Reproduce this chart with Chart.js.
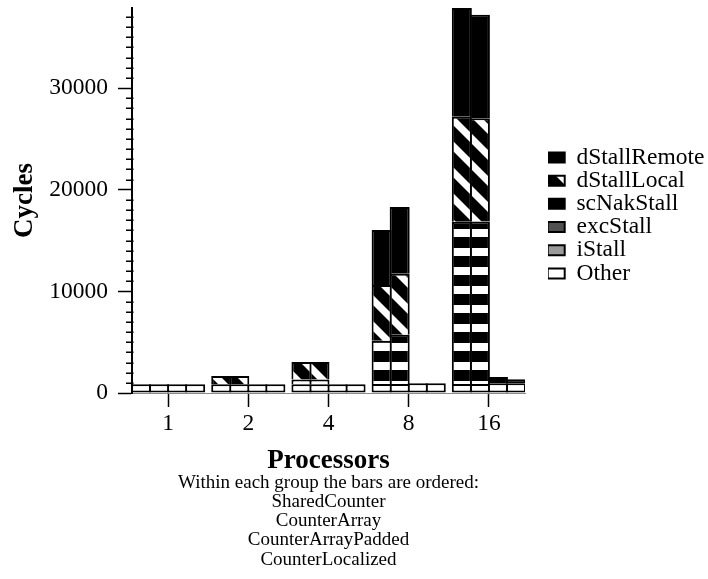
<!DOCTYPE html>
<html>
<head>
<meta charset="utf-8">
<script src="https://cdn.jsdelivr.net/npm/chart.js@4.4.1/dist/chart.umd.min.js"></script>
<style>
  html, body { margin: 0; padding: 0; background: #fff; }
  #wrap { width: 708px; height: 579px; }
</style>
</head>
<body>
<div id="wrap"><canvas id="cycles" width="708" height="579"></canvas></div>
<script>
// Processor counts along the x axis, one bar per counter variant in each group
const processors = ['1', '2', '4', '8', '16'];
const variants = ['SharedCounter', 'CounterArray', 'CounterArrayPadded', 'CounterLocalized'];
// Stacking order, bottom to top
const components = ['Other', 'iStall', 'excStall', 'scNakStall', 'dStallLocal', 'dStallRemote'];

// Cycles per component: one row per variant, one column per processor count
const otherCycles = [
  [860, 860, 860, 880, 880],
  [860, 860, 860, 880, 880],
  [860, 860, 860, 960, 960],
  [860, 860, 860, 960, 960]
];
const iStallCycles = [
  [0, 0, 0, 0, 0],
  [0, 0, 0, 0, 0],
  [0, 0, 0, 0, 0],
  [0, 0, 0, 0, 0]
];
const excStallCycles = [
  [0, 0, 0, 0, 0],
  [0, 0, 0, 0, 0],
  [0, 0, 0, 0, 0],
  [0, 0, 0, 0, 0]
];
const scNakStallCycles = [
  [0, 0, 470, 4250, 15970],
  [0, 0, 470, 4850, 16000],
  [0, 0, 0, 0, 0],
  [0, 0, 0, 0, 0]
];
const dStallLocalCycles = [
  [0, 820, 1730, 5500, 10330],
  [0, 820, 1730, 6000, 10140],
  [0, 0, 0, 0, 0],
  [0, 0, 0, 0, 0]
];
const dStallRemoteCycles = [
  [0, 0, 0, 5400, 10690],
  [0, 0, 0, 6560, 10190],
  [0, 0, 0, 0, 610],
  [0, 0, 0, 0, 390]
];

// y axis: labelled ticks and the spacing of the small ticks between them
const yTickValues = [0, 10000, 20000, 30000];
const yMinorStep = 1000;

const cycleTables = [otherCycles, iStallCycles, excStallCycles, scNakStallCycles, dStallLocalCycles, dStallRemoteCycles];

const canvas = document.getElementById('cycles');
const ctx = canvas.getContext('2d');

// Horizontal bands: black with white stripes
function bandPattern() {
  const t = document.createElement('canvas');
  t.width = 8; t.height = 19;
  const g = t.getContext('2d');
  g.fillStyle = '#000'; g.fillRect(0, 0, 8, 19);
  g.fillStyle = '#fff'; g.fillRect(0, 1, 8, 8);
  return ctx.createPattern(t, 'repeat');
}
// Diagonal hatching running down to the right
function hatchPattern() {
  const s = 26, w = 10;
  const t = document.createElement('canvas');
  t.width = s; t.height = s;
  const g = t.getContext('2d');
  g.fillStyle = '#000'; g.fillRect(0, 0, s, s);
  g.fillStyle = '#fff';
  for (const off of [-s, 0, s]) {
    g.beginPath();
    g.moveTo(0, off);
    g.lineTo(s, off + s);
    g.lineTo(s, off + s + w);
    g.lineTo(0, off + w);
    g.closePath();
    g.fill();
  }
  return ctx.createPattern(t, 'repeat');
}

const fills = ['#ffffff', '#9a9a9a', '#505050', bandPattern(), hatchPattern(), '#000000'];

const datasets = [];
variants.forEach((variant, vi) => {
  components.forEach((comp, ci) => {
    datasets.push({
      label: comp,
      stack: variant,
      data: processors.map((p, pi) => ({ x: pi, y: cycleTables[ci][vi][pi] })),
      backgroundColor: fills[ci],
      borderColor: '#000',
      borderWidth: 2,
      borderSkipped: ci === 0 ? false : 'start',
      categoryPercentage: 0.9,
      barPercentage: 1.11
    });
  });
});

// Top of the axis sits at the tallest stack
let tallest = 0;
variants.forEach((v, vi) => processors.forEach((p, pi) => {
  let s = 0;
  cycleTables.forEach(t => { s += t[vi][pi]; });
  tallest = Math.max(tallest, s);
}));

const halfGroup = 0.45;

// Small ticks between the labelled ones, crossing the y axis line
const minorTicks = {
  id: 'minorTicks',
  afterDraw(chart) {
    const y = chart.scales.y;
    const x0 = chart.chartArea.left;
    const c = chart.ctx;
    c.save();
    c.strokeStyle = '#000';
    c.lineWidth = 1.5;
    c.beginPath();
    for (let v = yMinorStep; v <= tallest; v += yMinorStep) {
      if (yTickValues.includes(v)) continue;
      const py = Math.round(y.getPixelForValue(v)) + 0.25;
      c.moveTo(x0 - 6, py);
      c.lineTo(x0 + 1.5, py);
    }
    c.stroke();
    c.restore();
  }
};

// Legend sits to the right of the plot, level with the upper part of the axis
const legendSpot = {
  id: 'legendSpot',
  afterLayout(chart) {
    const lg = chart.legend;
    const w = lg.width, h = lg.height;
    lg.left = chart.chartArea.right + 23;
    lg.top = 146;
    lg.right = lg.left + w;
    lg.bottom = lg.top + h;
  }
};

Chart.defaults.font.family = '"Liberation Serif", "Times New Roman", serif';
Chart.defaults.color = '#000';

new Chart(ctx, {
  type: 'bar',
  data: { datasets },
  plugins: [minorTicks, legendSpot],
  options: {
    responsive: false,
    animation: false,
    layout: { padding: { top: 8, left: 0, right: 183, bottom: 9.75 } },
    scales: {
      x: {
        type: 'linear',
        stacked: true,
        offset: false,
        min: -halfGroup,
        max: processors.length - 1 + halfGroup,
        afterFit(scale) { scale.height = 80; scale.paddingLeft = 0; scale.paddingRight = 0; },
        afterBuildTicks(scale) { scale.ticks = processors.map((p, i) => ({ value: i })); },
        ticks: {
          padding: 3,
          font: { size: 23.5 },
          callback: (v) => processors[v]
        },
        grid: { display: true, offset: false, drawOnChartArea: false, tickLength: 14, tickColor: '#000', tickWidth: 1.5 },
        border: { display: true, color: '#8a8a8a', width: 1 },
        title: {
          display: true,
          text: 'Processors',
          font: { size: 27, weight: 'bold', lineHeight: 0.88 },
          padding: { top: 0, bottom: 0 }
        }
      },
      y: {
        stacked: true,
        min: 0,
        max: tallest,
        afterFit(scale) { scale.width = 132; scale.paddingTop = 0; scale.paddingBottom = 0; },
        afterBuildTicks(scale) { scale.ticks = yTickValues.map(v => ({ value: v })); },
        ticks: {
          padding: 10,
          font: { size: 23.5 },
          callback: (v) => String(v)
        },
        grid: { display: true, drawOnChartArea: false, tickLength: 14, tickColor: '#000', tickWidth: 1.5 },
        border: { display: true, color: '#000', width: 2 },
        title: {
          display: true,
          text: 'Cycles',
          font: { size: 27, weight: 'bold' },
          padding: { top: 9, bottom: 0 }
        }
      }
    },
    plugins: {
      tooltip: { enabled: false },
      legend: {
        position: 'chartArea',
        align: 'start',
        reverse: true,
        labels: {
          filter: (item) => item.datasetIndex < components.length,
          boxWidth: 17,
          boxHeight: 10,
          padding: -0.3,
          color: '#000',
          font: { size: 23.5 }
        }
      },
      subtitle: {
        display: true,
        position: 'bottom',
        fullSize: false,
        text: ['Within each group the bars are ordered:'].concat(variants),
        font: { size: 19, lineHeight: '19.25px' },
        padding: { top: 0, bottom: 0 },
        color: '#000'
      }
    }
  }
});
</script>
</body>
</html>
